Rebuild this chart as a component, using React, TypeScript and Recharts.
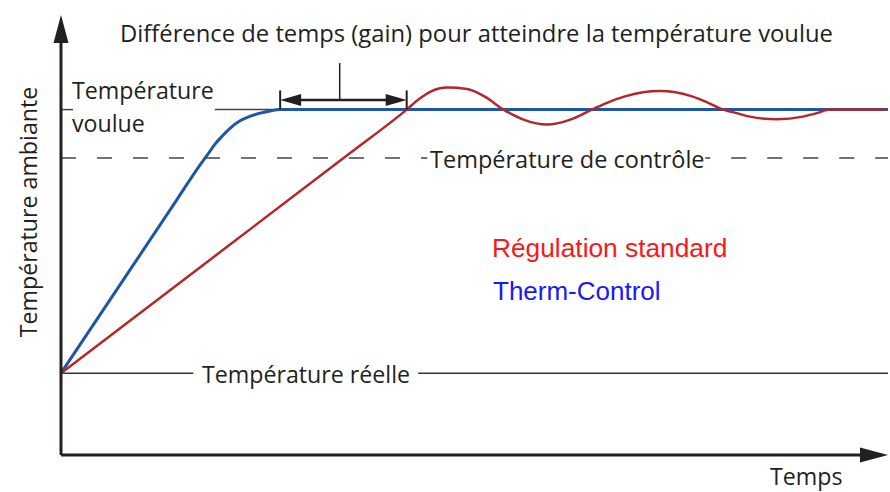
import React from "react";
import { LineChart, Line, XAxis, YAxis, ReferenceLine } from "recharts";

// temps (0-100) / température ambiante (0-100)
const T_REELLE = 18.6;
const T_VOULUE = 78.5;
const T_CONTROLE = 67.5;

const THERM_T = [0, 8, 14, 16.8, 17.7, 18.6, 19.5, 20.4, 21.6, 22.9, 24.1, 25.3, 26.5, 100];
const THERM_V = [18.6, 41.1, 58.0, 65.9, 68.2, 70.6, 72.5, 74.2, 75.9, 77.0, 77.7, 78.2, 78.5, 78.5];

const STD_T = [0, 20, 35, 41.8, 43.3, 44.7, 46.7, 49.1, 51.3, 53.5, 54.8, 56.1, 58.8, 61.4, 62.8, 64.2, 66.1, 68.2, 72.4, 76.3, 78.2, 80.1, 81.7, 83.3, 86.6, 89.7, 91.4, 93.0, 95.4, 99.6];
const STD_V = [18.6, 47.2, 68.7, 78.5, 80.9, 82.6, 83.5, 83.2, 81.4, 78.5, 77.2, 76.1, 75.1, 76.1, 77.2, 78.5, 80.1, 81.5, 82.7, 81.5, 80.1, 78.5, 77.7, 76.9, 76.3, 76.9, 77.7, 78.5, 78.5, 78.5];

// flèche "gain" entre les deux courbes
const GAIN_FROM = 26.5;
const GAIN_TO = 41.8;
const GAIN_LEVEL = 80.7;
const GAIN_STEM_T = 33.7;
const GAIN_STEM_TOP = 89.1;

// coupures des lignes de niveau autour des textes
const VOULUE_GAP = [1.45, 18.6];
const CONTROLE_GAP = [44.3, 77.9];
const REELLE_GAP = [16.0, 43.2];

const thermData = THERM_T.map((t, i) => ({ t, v: THERM_V[i] }));
const stdData = STD_T.map((t, i) => ({ t, v: STD_V[i] }));

const INK = "#231f20";
const FONT = "'Open Sans', sans-serif";
const ARIAL = "'Liberation Sans', Arial, sans-serif";

type ArrowOpts = { head?: number; half?: number; start?: boolean; end?: boolean; tick?: number };

const arrowShape = ({ head = 20, half = 6, start = false, end = false, tick = 0 }: ArrowOpts) =>
  (p: any) => {
    const { x1, y1, x2, y2, stroke, strokeWidth } = p;
    const len = Math.hypot(x2 - x1, y2 - y1) || 1;
    const ux = (x2 - x1) / len;
    const uy = (y2 - y1) / len;
    const nx = -uy;
    const ny = ux;
    const tri = (x: number, y: number, d: number) => {
      const bx = x - d * ux * head;
      const by = y - d * uy * head;
      return `${x},${y} ${bx + nx * half},${by + ny * half} ${bx - nx * half},${by - ny * half}`;
    };
    const sx = start ? x1 + ux * head * 0.6 : x1;
    const sy = start ? y1 + uy * head * 0.6 : y1;
    const ex = end ? x2 - ux * head * 0.6 : x2;
    const ey = end ? y2 - uy * head * 0.6 : y2;
    return (
      <g>
        <line x1={sx} y1={sy} x2={ex} y2={ey} stroke={stroke} strokeWidth={strokeWidth} />
        {start && <polygon points={tri(x1, y1, -1)} fill={stroke} />}
        {end && <polygon points={tri(x2, y2, 1)} fill={stroke} />}
        {tick > 0 && (
          <>
            <line x1={x1 + nx * tick} y1={y1 + ny * tick} x2={x1 - nx * tick} y2={y1 - ny * tick} stroke={stroke} strokeWidth={2} />
            <line x1={x2 + nx * tick} y1={y2 + ny * tick} x2={x2 - nx * tick} y2={y2 - ny * tick} stroke={stroke} strokeWidth={2} />
          </>
        )}
      </g>
    );
  };

const txt = { fontFamily: FONT, fontSize: 23.2, fill: INK };

export default function App() {
  return (
    <div style={{ position: "absolute", left: 0, top: 0, width: 890, height: 492, background: "#fff" }}>
      <LineChart width={890} height={492} margin={{ top: 15, right: 2, bottom: 37, left: 61 }}>
        <XAxis type="number" dataKey="t" domain={[0, 100]} hide />
        <YAxis type="number" dataKey="v" domain={[0, 100]} hide />

        {/* niveaux */}
        <ReferenceLine segment={[{ x: 0, y: T_VOULUE }, { x: VOULUE_GAP[0], y: T_VOULUE }]} stroke="#444" strokeWidth={1.5} ifOverflow="visible" />
        <ReferenceLine segment={[{ x: VOULUE_GAP[1], y: T_VOULUE }, { x: GAIN_FROM, y: T_VOULUE }]} stroke="#444" strokeWidth={1.5} ifOverflow="visible" />
        <ReferenceLine segment={[{ x: 0, y: T_CONTROLE }, { x: CONTROLE_GAP[0], y: T_CONTROLE }]} stroke="#444" strokeWidth={1.5} strokeDasharray="15 21" ifOverflow="visible" />
        <ReferenceLine segment={[{ x: CONTROLE_GAP[1], y: T_CONTROLE }, { x: 100, y: T_CONTROLE }]} stroke="#444" strokeWidth={1.5} strokeDasharray="15 21" strokeDashoffset={10} ifOverflow="visible" />
        <ReferenceLine segment={[{ x: 0, y: T_REELLE }, { x: REELLE_GAP[0], y: T_REELLE }]} stroke="#333" strokeWidth={1.5} ifOverflow="visible" />
        <ReferenceLine segment={[{ x: REELLE_GAP[1], y: T_REELLE }, { x: 100, y: T_REELLE }]} stroke="#333" strokeWidth={1.5} ifOverflow="visible" />

        <Line data={thermData} dataKey="v" type="monotone" stroke="#1f55a8" strokeWidth={3} dot={false} activeDot={false} isAnimationActive={false} />
        <Line data={stdData} dataKey="v" type="monotone" stroke="#b3272b" strokeWidth={2.5} dot={false} activeDot={false} isAnimationActive={false} />

        {/* axes */}
        <ReferenceLine segment={[{ x: 0, y: 0 }, { x: 0, y: 100 }]} stroke={INK} strokeWidth={3} ifOverflow="visible" shape={arrowShape({ head: 28, half: 7.5, end: true })} />
        <ReferenceLine segment={[{ x: 0, y: 0 }, { x: 100, y: 0 }]} stroke={INK} strokeWidth={3} ifOverflow="visible" shape={arrowShape({ head: 28, half: 7.5, end: true })} />

        {/* gain */}
        <ReferenceLine segment={[{ x: GAIN_STEM_T, y: GAIN_LEVEL }, { x: GAIN_STEM_T, y: GAIN_STEM_TOP }]} stroke={INK} strokeWidth={1.5} ifOverflow="visible" />
        <ReferenceLine segment={[{ x: GAIN_FROM, y: GAIN_LEVEL }, { x: GAIN_TO, y: GAIN_LEVEL }]} stroke={INK} strokeWidth={2.5} ifOverflow="visible" shape={arrowShape({ head: 21, half: 6, start: true, end: true, tick: 9.5 })} />

        <text x={120} y={42} {...txt} fontSize={23.8}>Différence de temps (gain) pour atteindre la température voulue</text>
        <text x={72} y={99} {...txt}>Température</text>
        <text x={72} y={132} {...txt}>voulue</text>
        <text x={430} y={168} {...txt} fontSize={23.5}>Température de contrôle</text>
        <text x={202} y={383} {...txt}>Température réelle</text>
        <text x={770} y={485} {...txt}>Temps</text>
        <text x={37} y={212} {...txt} textAnchor="middle" transform="rotate(-90 37 212)">Température ambiante</text>

        <text x={492} y={257} fontFamily={ARIAL} fontSize={26.3} fill="#f81818">Régulation standard</text>
        <text x={493} y={300} fontFamily={ARIAL} fontSize={26} fill="#1818f8">Therm-Control</text>
      </LineChart>
    </div>
  );
}
